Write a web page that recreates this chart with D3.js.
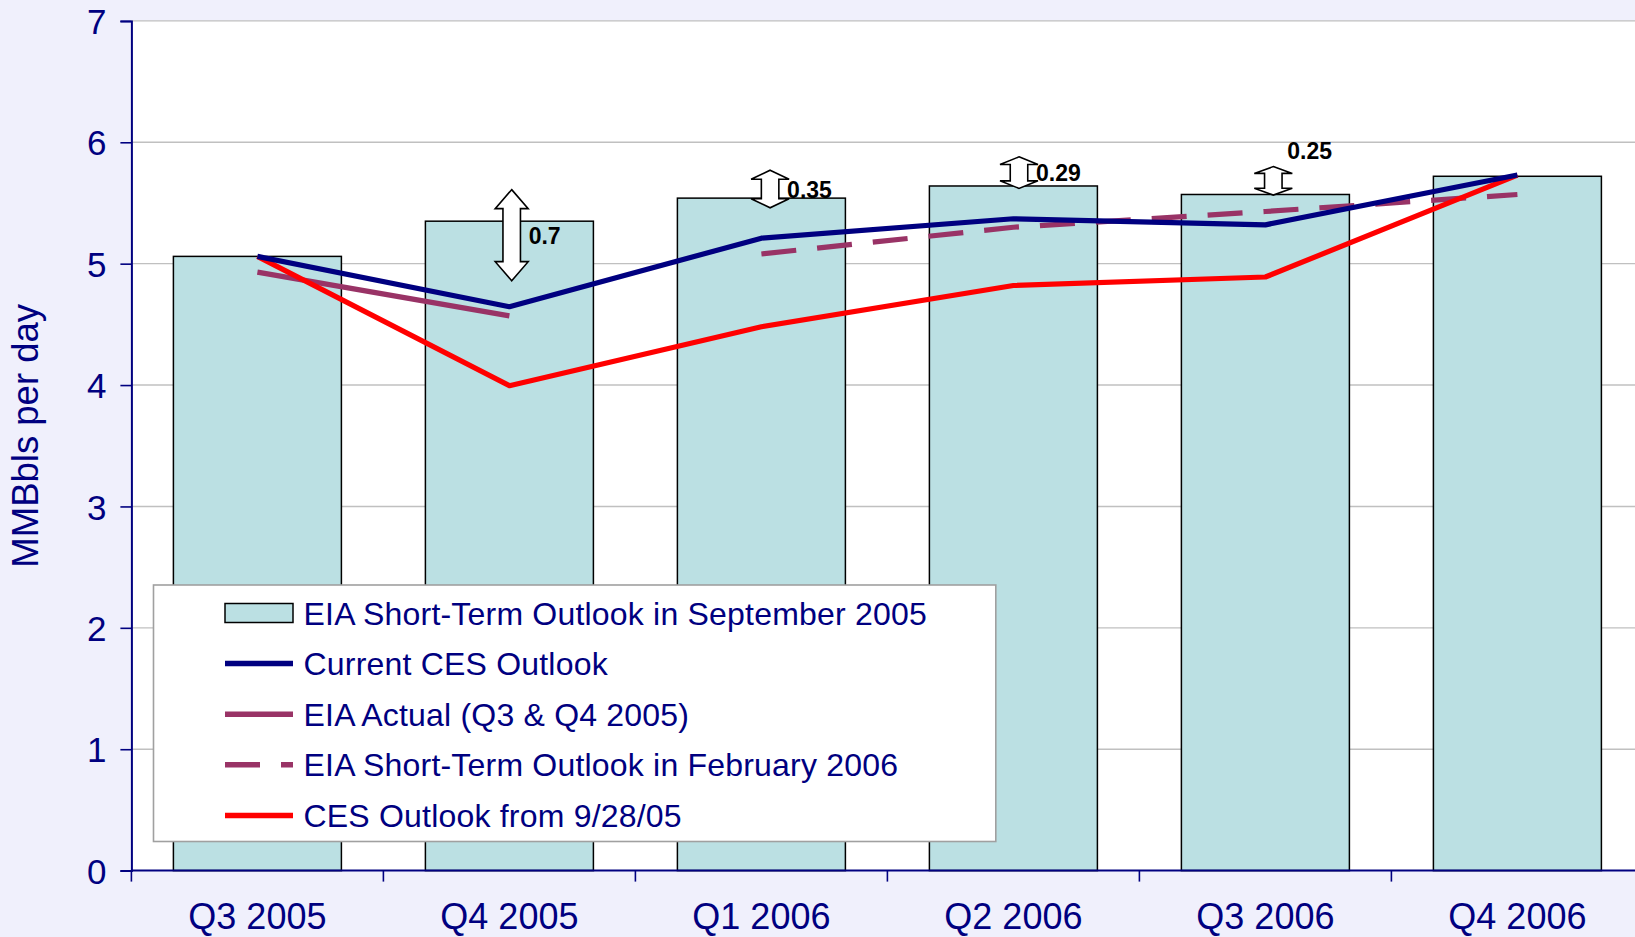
<!DOCTYPE html>
<html>
<head>
<meta charset="utf-8">
<script src="https://cdn.jsdelivr.net/npm/d3@7/dist/d3.min.js"></script>
<style>
  html, body { margin: 0; padding: 0; background: #F0F0FC; }
  svg { display: block; }
  text { font-family: "Liberation Sans", Arial, Helvetica, sans-serif; }
</style>
</head>
<body>
<svg id="chart" width="1635" height="937"></svg>
<script>
// ---------------- DATA ----------------
const categories = ["Q3 2005", "Q4 2005", "Q1 2006", "Q2 2006", "Q3 2006", "Q4 2006"];
const eiaSep2005 = [5.06, 5.35, 5.54, 5.64, 5.57, 5.72];          // bars
const currentCES = [5.06, 4.645, 5.21, 5.37, 5.32, 5.73];
const eiaActual  = [4.93, 4.57, null, null, null, null];
const eiaFeb2006 = [null, null, 5.08, 5.30, 5.43, 5.57];
const cesSep2005 = [5.06, 3.995, 4.48, 4.82, 4.89, 5.73];
const yTicks = [0, 1, 2, 3, 4, 5, 6, 7];
const yTitle = "MMBbls per day";
const gapCategories = ["Q4 2005", "Q1 2006", "Q2 2006", "Q3 2006"];
const gapTop    = [5.61, 5.77, 5.88, 5.80];
const gapBottom = [4.86, 5.46, 5.62, 5.565];
const gapLabels = ["0.7", "0.35", "0.29", "0.25"];
const legendLabels = [
  "EIA Short-Term Outlook in September 2005",
  "Current CES Outlook",
  "EIA Actual (Q3 & Q4 2005)",
  "EIA Short-Term Outlook in February 2006",
  "CES Outlook from 9/28/05"
];

// ---------------- LAYOUT / STYLE ----------------
const W = 1635, H = 937;
const plot = { left: 131.4, top: 20.9, bottom: 870.6, right: 131.4 + 6 * 252 };
const C = {
  bg: "#F0F0FC", navyText: "#000080", bar: "#BBE0E3", grid: "#C0C0C0",
  navy: "#000080", purple: "#993366", red: "#FF0000"
};
const arrowDx = [2.3, 8.7, 5.6, 7.9];        // small horizontal shift of each gap arrow
const labelMode = ["side", "side", "side", "above"];

const svg = d3.select("#chart");
svg.append("rect").attr("width", W).attr("height", H).attr("fill", C.bg);

const x = d3.scaleBand().domain(categories).range([plot.left, plot.right]).padding(0);
const xBar = d3.scaleBand().domain(categories).range([plot.left, plot.right])
  .paddingInner(1 / 3).paddingOuter(1 / 6);
const y = d3.scaleLinear().domain([0, 7]).range([plot.bottom, plot.top]);
const cx = c => x(c) + x.bandwidth() / 2;

// plot area
svg.append("rect").attr("x", plot.left).attr("y", y(7))
  .attr("width", W - plot.left).attr("height", y(0) - y(7)).attr("fill", "#FFFFFF");

// gridlines
svg.append("g").selectAll("line").data(yTicks.filter(d => d > 0)).join("line")
  .attr("x1", plot.left).attr("x2", W)
  .attr("y1", d => y(d)).attr("y2", d => y(d))
  .attr("stroke", C.grid).attr("stroke-width", 1.4);

// bars
svg.append("g").selectAll("rect").data(categories).join("rect")
  .attr("x", d => xBar(d)).attr("width", xBar.bandwidth())
  .attr("y", (d, i) => y(eiaSep2005[i]))
  .attr("height", (d, i) => y(0) - y(eiaSep2005[i]))
  .attr("fill", C.bar).attr("stroke", "#000").attr("stroke-width", 1.5);

// lines
const line = d3.line()
  .defined(d => d.v !== null)
  .x(d => cx(d.c)).y(d => y(d.v));
function series(vals) { return categories.map((c, i) => ({ c, v: vals[i] })); }

const lines = [
  { vals: eiaActual, color: C.purple, dash: null },
  { vals: eiaFeb2006, color: C.purple, dash: "35,21" },
  { vals: cesSep2005, color: C.red, dash: null },
  { vals: currentCES, color: C.navy, dash: null }
];
lines.forEach(l => {
  svg.append("path").datum(series(l.vals))
    .attr("d", line).attr("fill", "none")
    .attr("stroke", l.color).attr("stroke-width", 5.2)
    .attr("stroke-linejoin", "round")
    .attr("stroke-dasharray", l.dash);
});

// gap arrows
function arrowPath(xc, yT, yB) {
  const len = yB - yT;
  const hw = (len > 60 ? 33 : 38) / 2, sw = 17.5 / 2;
  const hl = Math.min(19, len * 0.24);
  return `M${xc},${yT} L${xc + hw},${yT + hl} L${xc + sw},${yT + hl} L${xc + sw},${yB - hl}` +
    ` L${xc + hw},${yB - hl} L${xc},${yB} L${xc - hw},${yB - hl} L${xc - sw},${yB - hl}` +
    ` L${xc - sw},${yT + hl} L${xc - hw},${yT + hl} Z`;
}
gapCategories.forEach((c, i) => {
  const xc = cx(c) + arrowDx[i];
  const yT = y(gapTop[i]), yB = y(gapBottom[i]);
  svg.append("path").attr("d", arrowPath(xc, yT, yB))
    .attr("fill", "#FFFFFF").attr("stroke", "#000").attr("stroke-width", 1.6)
    .attr("stroke-linejoin", "miter");
  const t = svg.append("text").text(gapLabels[i])
    .attr("font-size", 23).attr("font-weight", "bold").attr("fill", "#000");
  if (labelMode[i] === "side") {
    t.attr("x", xc + 17).attr("y", (yT + yB) / 2 + 8.5);
  } else {
    t.attr("x", xc + 14).attr("y", yT - 7.7);
  }
});

// y axis
const yAxis = svg.append("g").attr("transform", `translate(${plot.left},0)`)
  .call(d3.axisLeft(y).tickValues(yTicks).tickSize(11).tickPadding(14).tickFormat(d3.format("d")));
yAxis.select(".domain").attr("stroke", C.navy).attr("stroke-width", 2);
yAxis.selectAll(".tick line").attr("stroke", C.navy).attr("stroke-width", 1.6);
yAxis.selectAll(".tick text").attr("fill", C.navyText).attr("font-size", 35)
  .attr("font-family", "'Liberation Sans', Arial, sans-serif").attr("dy", "0.36em");

// x axis
const xg = svg.append("g");
xg.append("line").attr("x1", plot.left).attr("x2", W)
  .attr("y1", y(0)).attr("y2", y(0)).attr("stroke", C.navy).attr("stroke-width", 2);
xg.selectAll("line.tk").data(categories).join("line").attr("class", "tk")
  .attr("x1", d => x(d)).attr("x2", d => x(d))
  .attr("y1", y(0)).attr("y2", y(0) + 11)
  .attr("stroke", C.navy).attr("stroke-width", 1.6);
xg.selectAll("text").data(categories).join("text")
  .attr("x", d => cx(d)).attr("y", y(0) + 58)
  .attr("text-anchor", "middle").attr("font-size", 36).attr("fill", C.navyText)
  .text(d => d);

// y title
svg.append("text").text(yTitle)
  .attr("transform", `translate(38,${435.8}) rotate(-90)`)
  .attr("text-anchor", "middle").attr("font-size", 36.5).attr("fill", C.navyText);

// legend
const lg = svg.append("g");
const lb = { x: 153.5, y: 585, w: 842.3, h: 256.5 };
lg.append("rect").attr("x", lb.x).attr("y", lb.y).attr("width", lb.w).attr("height", lb.h)
  .attr("fill", "#FFFFFF").attr("stroke", "#A0A0A0").attr("stroke-width", 1.6);
const rowY = i => 613 + i * 50.6;
const sx0 = 225, sx1 = 293;
const legendSym = [
  { type: "rect" },
  { type: "line", color: C.navy, dash: null },
  { type: "line", color: C.purple, dash: null },
  { type: "line", color: C.purple, dash: "35,21" },
  { type: "line", color: C.red, dash: null }
];
legendLabels.forEach((lab, i) => {
  const ry = rowY(i), s = legendSym[i];
  if (s.type === "rect") {
    lg.append("rect").attr("x", sx0).attr("y", ry - 9.5).attr("width", sx1 - sx0).attr("height", 19)
      .attr("fill", C.bar).attr("stroke", "#000").attr("stroke-width", 1.5);
  } else {
    lg.append("line").attr("x1", sx0).attr("x2", sx1).attr("y1", ry).attr("y2", ry)
      .attr("stroke", s.color).attr("stroke-width", 5.5).attr("stroke-dasharray", s.dash);
  }
  lg.append("text").text(lab).attr("x", 303.5).attr("y", ry + 11.5)
    .attr("font-size", 32).attr("letter-spacing", 0.2).attr("fill", C.navyText);
});
</script>
</body>
</html>
